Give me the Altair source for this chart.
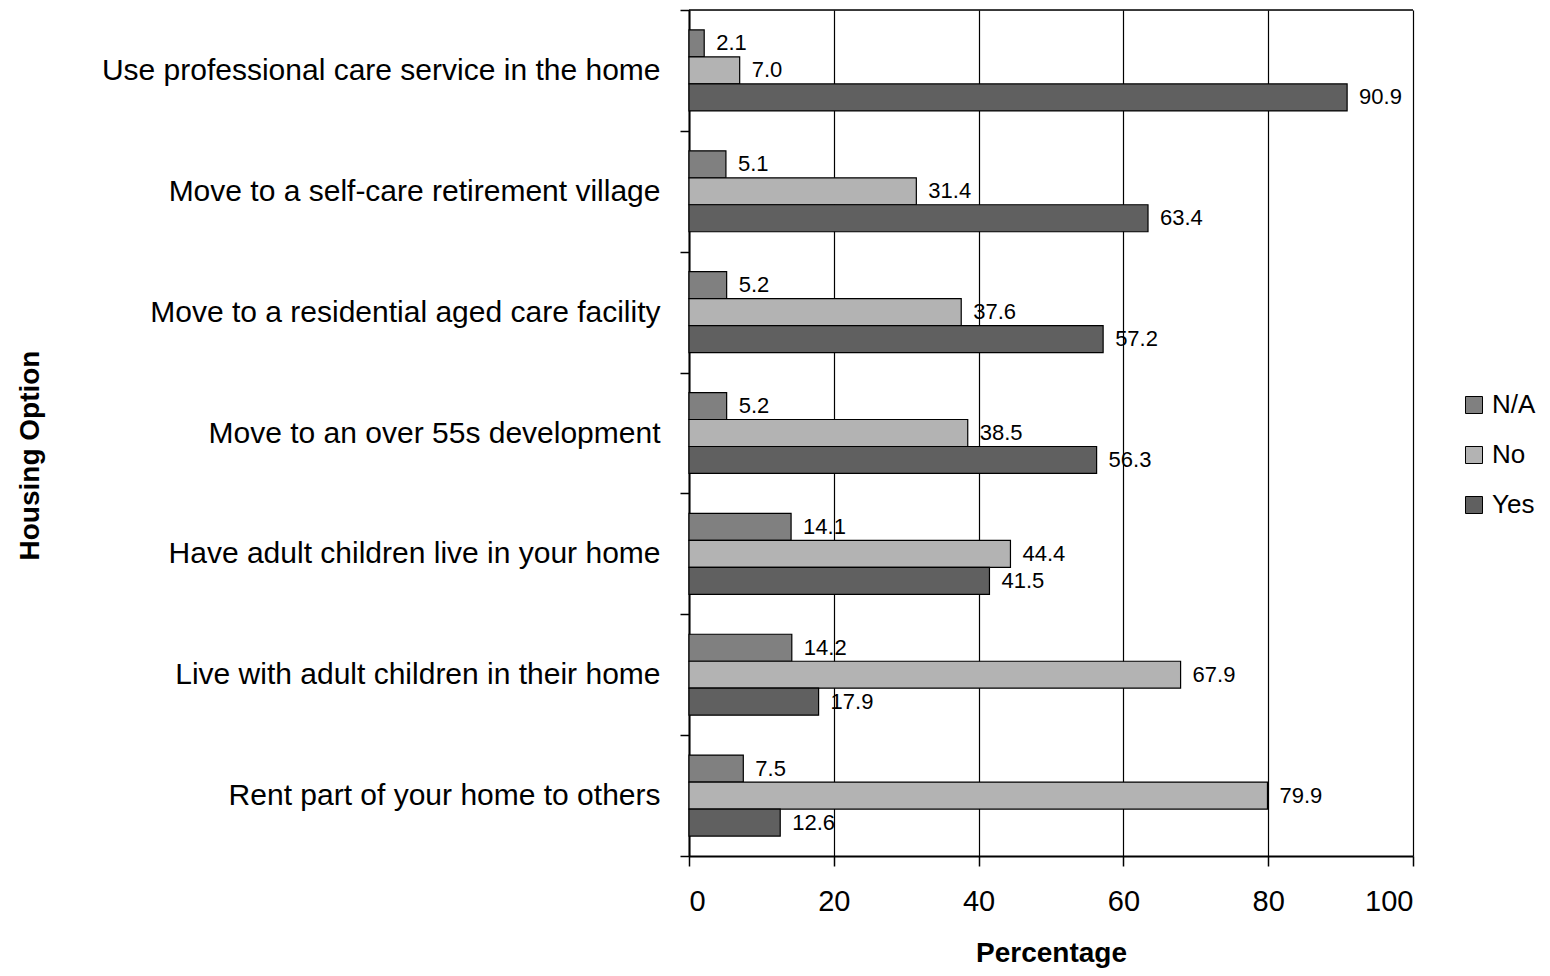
import altair as alt
import pandas as pd

options = [
    "Use professional care service in the home",
    "Move to a self-care retirement village",
    "Move to a residential aged care facility",
    "Move to an over 55s development",
    "Have adult children live in your home",
    "Live with adult children in their home",
    "Rent part of your home to others",
]
responses = ["N/A", "No", "Yes"]
na_values = [2.1, 5.1, 5.2, 5.2, 14.1, 14.2, 7.5]
no_values = [7.0, 31.4, 37.6, 38.5, 44.4, 67.9, 79.9]
yes_values = [90.9, 63.4, 57.2, 56.3, 41.5, 17.9, 12.6]
colors = ["#808080", "#b3b3b3", "#606060"]
x_ticks = [0, 20, 40, 60, 80, 100]

rows = []
for i, opt in enumerate(options):
    for resp, vals in zip(responses, [na_values, no_values, yes_values]):
        rows.append({"Housing Option": opt, "Response": resp, "Percentage": vals[i]})
df = pd.DataFrame(rows)

FONT = "Liberation Sans"

y_enc = alt.Y(
    "Housing Option:N",
    sort=options,
    scale=alt.Scale(paddingInner=0, paddingOuter=0),
    axis=alt.Axis(
        title="Housing Option",
        titleFont=FONT, titleFontSize=28, titleFontWeight="bold", titleColor="black",
        titleAngle=-90, titleX=-659, titleY=445, titleAlign="center", titleBaseline="middle",
        labelFont=FONT, labelFontSize=30, labelColor="black", labelPadding=20, labelLimit=0,
        tickSize=9, tickColor="black", tickWidth=1.5, tickBand="extent",
        domainColor="black", domainWidth=2, grid=False,
    ),
)
yoff = alt.YOffset(
    "Response:N",
    sort=responses,
    scale=alt.Scale(domain=responses, paddingInner=0, paddingOuter=0.74),
)
x_enc = alt.X(
    "Percentage:Q",
    scale=alt.Scale(domain=[0, 100], nice=False),
    axis=alt.Axis(
        title="Percentage", values=x_ticks,
        titleFont=FONT, titleFontSize=28, titleFontWeight="bold", titleColor="black",
        titleY=105, titleBaseline="alphabetic",
        labelFont=FONT, labelFontSize=29, labelColor="black", labelPadding=21,
        tickSize=10, tickColor="black", tickWidth=1.5,
        domainColor="black", domainWidth=2,
        grid=True, gridColor="black", gridWidth=1.2, gridOpacity=1,
    ),
)

bars = alt.Chart(df).mark_bar(stroke="black", strokeWidth=1.2).encode(
    x=x_enc,
    y=y_enc,
    yOffset=yoff,
    color=alt.Color(
        "Response:N",
        sort=responses,
        scale=alt.Scale(domain=responses, range=colors),
        legend=alt.Legend(
            title=None, orient="none", legendX=772, legendY=382,
            symbolType="square", symbolSize=289, symbolStrokeColor="black",
            symbolStrokeWidth=1, symbolOpacity=1,
            labelFont=FONT, labelFontSize=26, labelColor="black", labelOffset=5,
            rowPadding=24, padding=0,
        ),
    ),
)

labels = alt.Chart(df).mark_text(
    align="left", baseline="middle", dx=12, font=FONT, fontSize=22, color="black"
).encode(
    x="Percentage:Q",
    y=alt.Y("Housing Option:N", sort=options),
    yOffset=alt.YOffset("Response:N", sort=responses),
    text=alt.Text("Percentage:Q", format=".1f"),
)

top_border = alt.Chart(pd.DataFrame({"k": [0]})).mark_rule(
    color="black", strokeWidth=1.5
).encode(x=alt.value(0), x2=alt.value(724), y=alt.value(0))

chart = (
    alt.layer(bars, labels, top_border)
    .properties(
        width=724, height=846,
        autosize=alt.AutoSizeParams(type="none"),
        padding={"left": 681, "top": 2, "right": 129, "bottom": 112},
    )
    .configure_view(stroke="black", strokeWidth=2)
    .configure(background="white")
)

chart.save("out.html", embed_options={"renderer": "svg", "actions": False})
